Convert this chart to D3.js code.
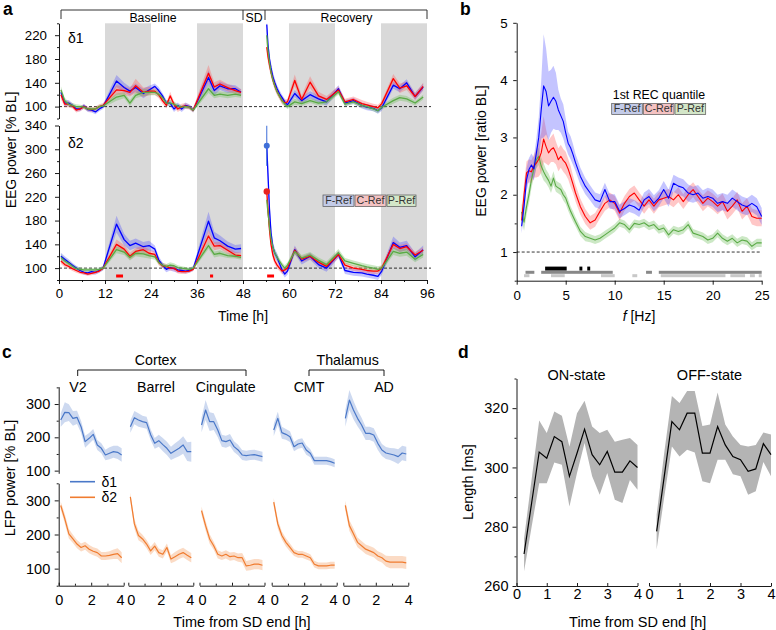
<!DOCTYPE html>
<html><head><meta charset="utf-8">
<script src="https://cdn.jsdelivr.net/npm/d3@7"></script>
<style>body{margin:0;background:#fff}svg{display:block}</style>
</head><body>
<svg id="chart" width="776" height="630"></svg>
<script>
// ---------------- DATA ----------------
// Panel a: time (h)
const timeBL  = [0.5,1.5,2.5,3.5,4.5,5.5,6.5,7.5,8.5,9.5,10.5,11.5, 15,17,18.5,20,22,23.5, 25,26,27,28,29,30,31,32,33,34,35, 39,40.5,42,44,46,47.5];
const timeREC = [54.2,54.5,54.9,55.3,55.8,56.3,56.9,57.5,58.2,58.9,59.6, 61.5,63.3,65.5,67.7,69.8, 72.9,74.6,76.8,79,80.3,82,83.2,84.2, 87.2,88.9,90.7,92.9,95];
const darkPeriods = [[12,24],[36,48],[60,72],[84,96]];
const seriesNames = ["F-Ref","C-Ref","P-Ref"];
// delta1
const d1F_BL = [124,106,106,102,96,96,101,95,94,91,96,100, 143,132,126,132,122,128, 134,127,118,106,106,96,102,96,102,100,94, 149,127,135,130,130,124];
const d1C_BL = [120,104,104,101,94,96,100,96,95,96,100,102, 128,127,124,135,124,126, 126,120,110,102,118,104,96,100,101,99,94, 156,133,138,132,127,124];
const d1P_BL = [128,110,104,102,100,100,99,96,96,96,100,101, 116,119,106,119,124,124, 124,121,115,106,106,104,101,99,100,99,94, 130,119,121,119,121,119];
const d1F_REC = [238,205,180,165,150,140,130,122,115,108,103, 122,110,120,113,108, 130,106,110,102,99,97,93,98, 136,130,140,117,133];
const d1C_REC = [200,185,170,158,145,135,125,118,110,106,108, 144,112,141,118,112, 128,108,112,105,103,100,98,105, 147,131,135,117,134];
const d1P_REC = [220,195,175,158,145,135,125,118,110,104,100, 108,105,110,106,108, 125,104,108,102,100,96,93,99, 110,115,113,106,116];
const semD1F_BL = [6,5,5,4,4,4,4,4,4,4,4,4, 10,8,7,7,8,7, 5,6,5,5,5,5,5,5,5,4,4, 12,8,7,7,6,5];
const semD1C_BL = [8,5,5,4,4,4,4,4,4,4,4,4, 8,7,7,12,8,7, 6,6,5,5,7,5,5,5,5,4,4, 14,8,7,6,6,5];
const semD1P_BL = [6,5,4,4,4,3,3,3,3,3,3,3, 6,5,5,5,6,5, 5,5,4,4,5,4,4,3,3,3,3, 7,5,5,5,5,4];
const semD1F_REC = [15,12,10,9,8,7,6,6,5,5,5, 6,6,6,6,6, 6,5,5,5,5,5,5,5, 6,6,6,6,6];
const semD1C_REC = [12,10,9,8,7,7,6,6,6,5,5, 10,7,10,7,6, 6,5,5,6,5,5,5,5, 8,8,7,6,6];
const semD1P_REC = [12,10,8,7,6,6,5,5,5,4,4, 5,4,4,4,4, 5,4,4,4,4,4,4,4, 5,5,5,4,4];
// delta2
const d2F_BL = [120,115,110,105,100,96,93,92,94,93,96,100, 174,148,138,142,136,138, 132,114,105,98,101,99,97,96,95,96,99, 179,151,146,137,132,133];
const d2C_BL = [112,106,103,99,96,93,92,90,91,93,95,100, 140,132,120,128,131,125, 123,110,104,103,100,100,95,94,94,95,98, 154,137,138,130,122,121];
const d2P_BL = [118,112,108,103,99,98,97,97,97,97,98,100, 131,127,118,125,124,121, 119,110,105,103,105,104,101,100,99,98,100, 138,123,125,121,120,118];
const d2F_REC = [306,260,200,160,135,125,118,108,97,90,95, 131,112,120,106,100, 123,96,93,92,90,88,86,95, 143,135,138,119,131];
const d2C_REC = [229,200,165,140,122,112,105,100,95,97,100, 130,115,120,110,103, 123,105,100,98,96,95,95,100, 140,133,136,122,130];
const d2P_REC = [215,195,170,150,135,125,118,112,105,100,105, 128,117,122,113,106, 126,112,108,104,102,100,98,100, 128,125,127,115,123];
const semD2F_BL = [6,5,5,4,4,4,4,4,4,4,4,4, 14,10,8,8,8,8, 6,6,5,5,5,5,5,4,4,4,4, 16,10,9,8,7,7];
const semD2C_BL = [5,4,4,4,4,3,3,3,3,3,3,3, 8,7,6,6,7,6, 5,5,4,4,4,4,4,4,4,3,3, 10,7,6,6,5,5];
const semD2P_BL = [6,5,4,4,4,3,3,3,3,3,3,3, 6,5,5,5,6,5, 5,4,4,4,5,4,4,3,3,3,3, 6,5,5,4,4,4];
const semD2F_REC = [25,20,16,12,10,8,7,6,6,6,6, 7,6,6,6,6, 6,6,6,6,6,6,6,6, 10,8,8,7,7];
const semD2C_REC = [12,12,10,8,7,6,6,5,5,5,5, 6,5,5,5,5, 6,5,5,5,5,5,5,5, 7,6,6,5,5];
const semD2P_REC = [12,10,9,8,7,6,6,5,5,5,5, 5,5,5,5,5, 6,5,5,5,5,5,5,5, 6,6,6,5,5];
const sdDotErrF = 34;
const sigA = [[14.9,16.7],[39.4,40.2],[54.3,56.1]];

// Panel b: frequency (Hz)
const freqB = [0.5,0.75,1,1.25,1.5,1.75,2,2.25,2.5,2.75,3,3.25,3.5,3.75,4,4.25,4.5,4.75,5,5.25,5.5,5.75,6, 6.5,7,7.5,8,8.5,9,9.5,10,10.5,11,11.5,12,12.5,13,13.5,14,14.5,15,15.5,16,16.5,17,17.5,18,18.5,19,19.5,20,20.5,21,21.5,22,22.5,23,23.5,24,24.5,25];
const bF = [1.45,1.8,2.26,2.44,2.52,2.45,2.72,3.0,3.48,3.9,3.8,3.55,3.63,3.70,3.63,3.48,3.38,3.28,3.08,2.9,2.82,2.7,2.56, 2.32,2.15,2.03,1.91,1.88,2.09,1.88,1.88,1.71,1.76, 1.82,1.79,1.73,1.91,1.97,1.85,1.94,2.09,1.94,2.2, 2.15,2.12,2.03,2.0,2.03,1.94,1.97,1.94,1.85,1.88, 1.85,1.94,1.88,1.82,1.79,1.85,1.79,1.62];
const bC = [1.55,2.0,2.38,2.42,2.40,2.5,2.55,2.62,2.73,2.97,2.84,2.73,2.79,2.82,2.73,2.61,2.67,2.6,2.55,2.45,2.32,2.18,2.03, 1.79,1.62,1.51,1.56,1.71,1.85,1.91,1.85,1.68,1.85, 1.97,2.03,1.91,1.80,1.91,1.80,1.91,1.94,1.97,1.91, 2.0,1.88,2.0,2.09,1.97,1.85,1.94,1.88,1.80,1.88, 1.71,1.80,1.91,1.71,1.80,1.62,1.59,1.59];
const bP = [1.7,1.52,1.79,2.0,2.26,2.45,2.61,2.67,2.5,2.4,2.32,2.25,2.15,2.29,2.15,2.12,2.09,2.0,1.94,1.82,1.71,1.62,1.53, 1.36,1.27,1.24,1.21,1.24,1.30,1.36,1.42,1.51,1.48, 1.39,1.50,1.48,1.51,1.45,1.48,1.39,1.42,1.30,1.39, 1.36,1.39,1.48,1.33,1.30,1.27,1.21,1.24,1.33,1.24, 1.19,1.24,1.16,1.21,1.19,1.10,1.16,1.16];
const semBF = [0.12,0.15,0.2,0.2,0.2,0.2,0.25,0.35,0.5,0.9,0.75,0.6,0.55,0.55,0.5,0.35,0.3,0.3,0.25,0.2,0.2,0.18,0.15, 0.15,0.14,0.13,0.13,0.13,0.12,0.13,0.13,0.12,0.12, 0.12,0.12,0.12,0.13,0.13,0.14,0.14,0.15,0.15,0.15, 0.15,0.15,0.15,0.14,0.14,0.14,0.15,0.15,0.15,0.15, 0.15,0.15,0.15,0.15,0.15,0.15,0.15,0.15];
const semBC = [0.15,0.2,0.2,0.2,0.2,0.2,0.25,0.3,0.35,0.4,0.3,0.22,0.22,0.25,0.2,0.2,0.2,0.2,0.2,0.18,0.18,0.15,0.15, 0.14,0.13,0.12,0.12,0.12,0.13,0.13,0.13,0.13,0.13, 0.13,0.13,0.13,0.13,0.13,0.13,0.13,0.13,0.13,0.13, 0.13,0.13,0.13,0.13,0.13,0.14,0.14,0.14,0.14,0.14, 0.14,0.14,0.14,0.14,0.14,0.14,0.14,0.14];
const semBP = [0.15,0.15,0.15,0.15,0.15,0.15,0.15,0.15,0.15,0.15,0.12,0.12,0.12,0.12,0.1,0.1,0.1,0.1,0.1,0.1,0.09,0.09,0.08, 0.08,0.08,0.07,0.07,0.07,0.07,0.07,0.07,0.07,0.07, 0.07,0.07,0.07,0.07,0.07,0.07,0.07,0.07,0.07,0.07, 0.07,0.07,0.07,0.07,0.07,0.07,0.07,0.07,0.07,0.07, 0.07,0.07,0.07,0.07,0.07,0.07,0.07,0.07];
const sigBlack = [[2.9,5.1],[6.4,6.7],[7.2,7.5]];
const sigDark  = [[0.9,1.8],[2.5,9.8],[13.2,13.8],[14.5,25]];
const sigLight = [[0.75,1.3],[3.5,4.9],[8.6,10],[11.8,12.3],[14.7,21.3],[21.8,23.3],[23.8,24.3],[24.7,25]];

// Panel c
const regionsC = ["V2","Barrel","Cingulate","CMT","AD"];
const timeC = [0.125,0.375,0.625,0.875,1.125,1.375,1.625,1.875,2.125,2.375,2.625,2.875,3.125,3.375,3.625,3.875];
const cV2_d1      = [252,275,274,257,260,232,187,197,209,177,167,147,152,157,155,147];
const cBarrel_d1  = [232,259,252,247,244,208,182,190,178,167,152,160,167,177,157,157];
const cCing_d1    = [237,282,247,247,222,190,187,192,172,162,147,145,147,148,145,142];
const cCMT_d1     = [222,257,214,209,202,172,180,183,162,152,130,130,130,130,127,122];
const cAD_d1      = [257,312,282,257,237,212,212,207,182,162,153,150,147,142,153,150];
const cV2_d2      = [285,246,202,187,172,162,167,157,151,147,137,137,139,142,144,132];
const cBarrel_d2  = [310,231,197,187,172,152,166,147,142,162,128,135,142,147,139,132];
const cCing_d2    = [270,226,187,167,142,137,142,135,137,132,132,108,110,113,113,110];
const cCMT_d2     = [295,231,197,177,162,147,142,142,137,132,113,108,108,108,110,110];
const cAD_d2      = [285,226,202,177,167,157,152,147,137,132,122,119,119,119,119,117];
const semC_d1 = [[20,30,25,22,20,18,18,16,16,15,15,16,18,18,20,20],
                 [18,20,20,18,18,16,16,18,20,20,20,22,24,26,28,30],
                 [22,30,28,25,22,18,18,18,16,16,15,15,15,15,15,15],
                 [18,20,18,16,16,14,14,14,14,12,12,12,12,12,12,12],
                 [25,30,28,24,22,20,20,20,20,18,18,18,20,22,22,22]];
const semC_d2 = [[12,14,14,12,12,12,12,12,12,12,12,12,12,14,16,16],
                 [12,14,14,12,12,12,12,12,12,12,12,14,14,14,14,14],
                 [12,14,14,12,12,12,12,12,12,12,14,14,15,15,15,15],
                 [12,14,12,12,12,10,10,10,10,10,10,10,10,10,10,10],
                 [14,16,16,14,14,14,14,14,14,14,16,18,18,18,18,18]];

// Panel d
const timeD = [0.25,0.5,0.75,1,1.25,1.5,1.75,2,2.25,2.5,2.75,3,3.25,3.5,3.75,4];
const onMean  = [270.8,288,305.2,303.1,310.4,308.7,297,304.8,312.9,304.3,300.9,305.4,298.4,298.4,302.2,300];
const onUpper = [276,296,315.8,311.6,318.9,317.4,307,318.3,322.5,313.8,311.6,312.7,308.7,309.3,309.9,307.6];
const onLower = [265,280,294.7,294.7,301.7,300.9,286.8,298.1,308.2,297,290.8,298.1,289.1,288,295.8,292.5];
const offMean  = [278.4,297,315.5,312.7,318.3,318.3,304.8,304.8,313.8,307.6,303.7,302.6,298.7,299.5,308,304.3];
const offUpper = [284,305,324.1,321.7,325.8,325.8,314,314.5,325.3,314.5,310.4,307.6,307.1,307.6,311.8,311.1];
const offLower = [272.3,290,307.1,303.7,306,305,295.3,294.7,302.6,302.6,297.7,297,290.8,292,301.8,297];

// ---------------- DRAWING ----------------
const FONT = '"Liberation Sans", Arial, Helvetica, sans-serif';
const svg = d3.select('#chart').attr('font-family', FONT);
const COL = {F:'#0000ff', C:'#ff0000', P:'#5aaa46'};
const BAND = {F:'rgba(70,70,255,0.32)', C:'rgba(255,80,80,0.32)', P:'rgba(110,190,90,0.35)'};

function text(x, y, s, o = {}) {
  const t = svg.append('text').attr('x', x).attr('y', y).text(s)
    .attr('font-size', o.size || 13).attr('text-anchor', o.anchor || 'middle')
    .attr('font-weight', o.weight || 'normal').attr('fill', o.fill || '#000');
  if (o.rotate) t.attr('transform', `rotate(${o.rotate},${x},${y})`);
  return t;
}
function styleAxis(g, fs) {
  g.attr('font-family', FONT).attr('font-size', fs);
  g.selectAll('path,line').attr('stroke', '#000').attr('stroke-width', 0.9);
  g.selectAll('text').attr('fill', '#000');
}
function axisY(scale, x, major, minor, o) {
  const g = svg.append('g').attr('transform', `translate(${x},0)`);
  g.call(d3.axisLeft(scale).tickValues(major).tickSize(o.tick).tickSizeOuter(0).tickPadding(o.pad).tickFormat(d3.format('d')));
  if (minor) g.append('g').call(d3.axisLeft(scale).tickValues(minor).tickSize(o.tick > 0 ? 2 : -2).tickFormat('')).select('.domain').remove();
  styleAxis(g, o.size);
  return g;
}
function axisX(scale, y, major, minor, o) {
  const g = svg.append('g').attr('transform', `translate(0,${y})`);
  g.call(d3.axisBottom(scale).tickValues(major).tickSize(o.tick).tickSizeOuter(0).tickPadding(o.pad).tickFormat(d3.format('d')));
  if (minor) g.append('g').call(d3.axisBottom(scale).tickValues(minor).tickSize(o.tick > 0 ? 2 : -2).tickFormat('')).select('.domain').remove();
  styleAxis(g, o.size);
  return g;
}
let clipId = 0;
function clip(x0, y0, x1, y1) {
  const id = 'clip' + (clipId++);
  svg.append('clipPath').attr('id', id).append('rect').attr('x', x0).attr('y', y0).attr('width', x1 - x0).attr('height', y1 - y0);
  return `url(#${id})`;
}
function band(g, pts, x, y, fill) {
  g.append('path').datum(pts).attr('fill', fill).attr('stroke', 'none')
    .attr('d', d3.area().defined(d => d.t != null).x(d => x(d.t)).y0(d => y(d.v - d.e)).y1(d => y(d.v + d.e)));
}
function line(g, pts, x, y, color, w) {
  g.append('path').datum(pts).attr('fill', 'none').attr('stroke', color).attr('stroke-width', w || 1.3)
    .attr('stroke-linejoin', 'round')
    .attr('d', d3.line().defined(d => d.t != null).x(d => x(d.t)).y(d => y(d.v)));
}
function zipA(bl, rec, sbl, srec) {
  return timeBL.map((t, i) => ({t, v: bl[i], e: sbl[i]}))
    .concat([{t: null}])
    .concat(timeREC.map((t, i) => ({t, v: rec[i], e: srec[i]})));
}

// ===== Panel a =====
const xA = d3.scaleLinear().domain([0, 96]).range([59, 427]);
const yA1 = d3.scaleLinear().domain([80, 240]).range([118.5, 23.3]);
const yA2 = d3.scaleLinear().domain([80, 340]).range([280, 125.5]);
darkPeriods.forEach(p => svg.append('rect').attr('x', xA(p[0])).attr('y', 23.3)
  .attr('width', xA(p[1]) - xA(p[0])).attr('height', 280 - 23.3).attr('fill', '#d9d9d9'));
[yA1, yA2].forEach(ys => {
  svg.append('line').attr('x1', 59).attr('x2', 431).attr('y1', ys(100)).attr('y2', ys(100))
    .attr('stroke', '#000').attr('stroke-width', 0.8).attr('stroke-dasharray', '3,2');
});
const sA = {
  1: {F: zipA(d1F_BL, d1F_REC, semD1F_BL, semD1F_REC), C: zipA(d1C_BL, d1C_REC, semD1C_BL, semD1C_REC), P: zipA(d1P_BL, d1P_REC, semD1P_BL, semD1P_REC)},
  2: {F: zipA(d2F_BL, d2F_REC, semD2F_BL, semD2F_REC), C: zipA(d2C_BL, d2C_REC, semD2C_BL, semD2C_REC), P: zipA(d2P_BL, d2P_REC, semD2P_BL, semD2P_REC)}
};
const gA1 = svg.append('g').attr('clip-path', clip(59, 23.3, 432, 118.5));
const gA2 = svg.append('g').attr('clip-path', clip(59, 125.5, 432, 280));
[[gA1, yA1, sA[1]], [gA2, yA2, sA[2]]].forEach(([g, ys, s]) => {
  ['F', 'C', 'P'].forEach(k => band(g, s[k], xA, ys, BAND[k]));
  ['F', 'C', 'P'].forEach(k => line(g, s[k], xA, ys, COL[k]));
});
gA2.append('line').attr('x1', xA(timeREC[0])).attr('x2', xA(timeREC[0]))
  .attr('y1', yA2(d2F_REC[0] - sdDotErrF)).attr('y2', yA2(d2F_REC[0] + sdDotErrF)).attr('stroke', '#3f6fd8').attr('stroke-width', 1);
svg.append('circle').attr('cx', xA(timeREC[0])).attr('cy', yA2(d2F_REC[0])).attr('r', 3).attr('fill', '#3f6fd8');
svg.append('circle').attr('cx', xA(timeREC[0])).attr('cy', yA2(d2C_REC[0])).attr('r', 3.2).attr('fill', '#e8221e');
sigA.forEach(s => svg.append('rect').attr('x', xA(s[0])).attr('width', xA(s[1]) - xA(s[0]))
  .attr('y', 274.5).attr('height', 3).attr('fill', '#ff0000'));

const axA = {tick: 4, pad: 8, size: 13.3};
axisY(yA1, 59, [100, 140, 180, 220], [80, 120, 160, 200, 240], axA);
axisY(yA2, 59, [100, 140, 180, 220, 260, 300, 340], [80, 120, 160, 200, 240, 280, 320], axA);
axisX(xA, 280, d3.range(0, 97, 12), d3.range(6, 96, 12), {tick: 4, pad: 5, size: 13.3});
text(16, 150, 'EEG power [% BL]', {rotate: -90, size: 14});
text(243, 320.5, 'Time [h]', {size: 14});
text(68, 43, 'δ1', {anchor: 'start', size: 14});
text(68, 148, 'δ2', {anchor: 'start', size: 14});
text(3, 15, 'a', {anchor: 'start', size: 17.5, weight: 'bold'});
svg.append('path').attr('d', `M61,19V10H427V19M243,10V20M265,10V20`).attr('fill', 'none').attr('stroke', '#333').attr('stroke-width', 1);
text(153, 21.5, 'Baseline', {size: 12.3});
text(254, 21.5, 'SD', {size: 12.3});
text(346.5, 21.5, 'Recovery', {size: 12.3});
const legFill = ['#c3cbe8', '#f4c2c2', '#d3e6c8'];
function legendBoxes(boxes, y, h) {
  boxes.forEach((b, i) => {
    svg.append('rect').attr('x', b[0]).attr('y', y).attr('width', b[1] - b[0]).attr('height', h)
      .attr('fill', legFill[i]).attr('stroke', '#555').attr('stroke-width', 0.7);
    text((b[0] + b[1]) / 2, y + h - 2.2, seriesNames[i], {size: 10.7, fill: '#333'});
  });
}
legendBoxes([[323, 354], [355, 386], [387, 416]], 195, 11.5);

// ===== Panel b =====
const xB = d3.scaleLinear().domain([0, 25]).range([516.7, 761.7]);
const yB = d3.scaleLinear().domain([0.5, 5]).range([280.7, 22.8]);
svg.append('line').attr('x1', xB(0)).attr('x2', xB(25)).attr('y1', yB(1)).attr('y2', yB(1))
  .attr('stroke', '#000').attr('stroke-width', 0.8).attr('stroke-dasharray', '3,2');
const gB = svg.append('g');
const sB = {F: [bF, semBF], C: [bC, semBC], P: [bP, semBP]};
const ptsB = k => freqB.map((f, i) => ({t: f, v: sB[k][0][i], e: sB[k][1][i]}));
['P', 'C', 'F'].forEach(k => band(gB, ptsB(k), xB, yB, BAND[k]));
['P', 'C', 'F'].forEach(k => line(gB, ptsB(k), xB, yB, COL[k], 1.1));
[[sigBlack, '#000', 266.6, 4], [sigDark, '#888', 270.8, 3], [sigLight, '#c8c8c8', 274.2, 3]].forEach(([arr, c, y, h]) => {
  arr.forEach(s => svg.append('rect').attr('x', xB(s[0])).attr('width', xB(s[1]) - xB(s[0])).attr('y', y).attr('height', h).attr('fill', c));
});
axisY(yB, 516.7, [1, 2, 3, 4, 5], [0.5, 1.5, 2.5, 3.5, 4.5], {tick: 3.5, pad: 5.5, size: 13.3});
axisX(xB, 280.7, [0, 5, 10, 15, 20, 25], null, {tick: 4, pad: 6, size: 13.3});
text(486, 151, 'EEG power [ratio BL]', {rotate: -90, size: 14});
const fl = text(639, 320.5, '', {size: 14});
fl.append('tspan').attr('font-style', 'italic').text('f');
fl.append('tspan').text(' [Hz]');
text(460, 15, 'b', {anchor: 'start', size: 17.5, weight: 'bold'});
text(659, 98.5, '1st REC quantile', {size: 12.3});
legendBoxes([[611.7, 642.3], [643.3, 674], [675, 705.7]], 103.5, 11);

// ===== Panel c =====
const cStarts = [58.7, 128.3, 199.5, 271.7, 343.3];
const cW = 65;
const cLabelX = [78, 156, 225.7, 309, 384];
const yC1 = d3.scaleLinear().domain([92, 352]).range([473.3, 386.7]);
const yC2 = d3.scaleLinear().domain([50, 350]).range([585.7, 483.3]);
const cD1 = [cV2_d1, cBarrel_d1, cCing_d1, cCMT_d1, cAD_d1];
const cD2 = [cV2_d2, cBarrel_d2, cCing_d2, cCMT_d2, cAD_d2];
const C1 = '#4a78c8', C2 = '#f07c30';
cStarts.forEach((sx, r) => {
  const xc = d3.scaleLinear().domain([0, 4]).range([sx, sx + cW]);
  const g = svg.append('g');
  const p1 = timeC.map((t, i) => ({t, v: cD1[r][i], e: semC_d1[r][i]}));
  const p2 = timeC.map((t, i) => ({t, v: cD2[r][i], e: semC_d2[r][i]}));
  band(g, p1, xc, yC1, 'rgba(74,120,200,0.28)');
  line(g, p1, xc, yC1, C1, 1.2);
  band(g, p2, xc, yC2, 'rgba(240,124,48,0.28)');
  line(g, p2, xc, yC2, C2, 1.2);
  const ax = axisX(xc, 585.7, [0, 2, 4], [1, 3], {tick: -3, pad: 9.5, size: 14.5});
  ax.selectAll('.tick text').each(function (d) {
    const t = d3.select(this);
    if (d === 4 && r < 4) t.attr('text-anchor', 'end').attr('x', 0.5);
    if (d === 0 && r > 0) t.attr('text-anchor', 'start').attr('x', -1.5);
  });
  text(cLabelX[r], 392, regionsC[r], {size: 14.2});
});
axisY(yC1, 58.7, [100, 200, 300], [150, 250, 350], {tick: 4, pad: 4.5, size: 14.5});
axisY(yC2, 58.7, [100, 200, 300], [50, 150, 250, 350], {tick: 4, pad: 4.5, size: 14.5});
svg.append('path').attr('d', 'M77.7,376V370H246V376M309,376V370H384V376').attr('fill', 'none').attr('stroke', '#000').attr('stroke-width', 0.9);
text(155.7, 364.5, 'Cortex', {size: 14.2});
text(347.7, 364.5, 'Thalamus', {size: 14.2});
text(14.5, 478, 'LFP power [% BL]', {rotate: -90, size: 14.5});
text(242, 626.5, 'Time from SD end [h]', {size: 14.5});
text(2, 358, 'c', {anchor: 'start', size: 17.5, weight: 'bold'});
svg.append('line').attr('x1', 70).attr('x2', 95).attr('y1', 481.7).attr('y2', 481.7).attr('stroke', C1).attr('stroke-width', 1.6);
svg.append('line').attr('x1', 70).attr('x2', 95).attr('y1', 497.3).attr('y2', 497.3).attr('stroke', C2).attr('stroke-width', 1.6);
text(101.5, 486.5, 'δ1', {anchor: 'start', size: 14});
text(101.5, 502.2, 'δ2', {anchor: 'start', size: 14});

// ===== Panel d =====
const yD = d3.scaleLinear().domain([260, 330]).range([586, 378.5]);
const dPanels = [[[516.5, 637.5], onMean, onUpper, onLower, 'ON-state'], [[649, 771], offMean, offUpper, offLower, 'OFF-state']];
dPanels.forEach(([rng, m, u, l, name]) => {
  const xd = d3.scaleLinear().domain([0, 4]).range(rng);
  const pts = timeD.map((t, i) => ({t, m: m[i], u: u[i], l: l[i]}));
  svg.append('path').datum(pts).attr('fill', '#b4b4b4')
    .attr('d', d3.area().x(d => xd(d.t)).y0(d => yD(d.l)).y1(d => yD(d.u)));
  svg.append('path').datum(pts).attr('fill', 'none').attr('stroke', '#000').attr('stroke-width', 1.2)
    .attr('d', d3.line().x(d => xd(d.t)).y(d => yD(d.m)));
  axisX(xd, 586, [0, 1, 2, 3, 4], null, {tick: -3, pad: 2.5, size: 14.5});
  text((rng[0] + rng[1]) / 2 - 0.5, 380, name, {size: 14.5});
});
axisY(yD, 516.5, [260, 280, 300, 320], [270, 290, 310, 330], {tick: 4, pad: 4, size: 14.5});
text(473, 482, 'Length [ms]', {rotate: -90, size: 14.5});
text(637.7, 626.5, 'Time from SD end [h]', {size: 14.5});
text(458, 358, 'd', {anchor: 'start', size: 17.5, weight: 'bold'});
</script>
</body></html>
